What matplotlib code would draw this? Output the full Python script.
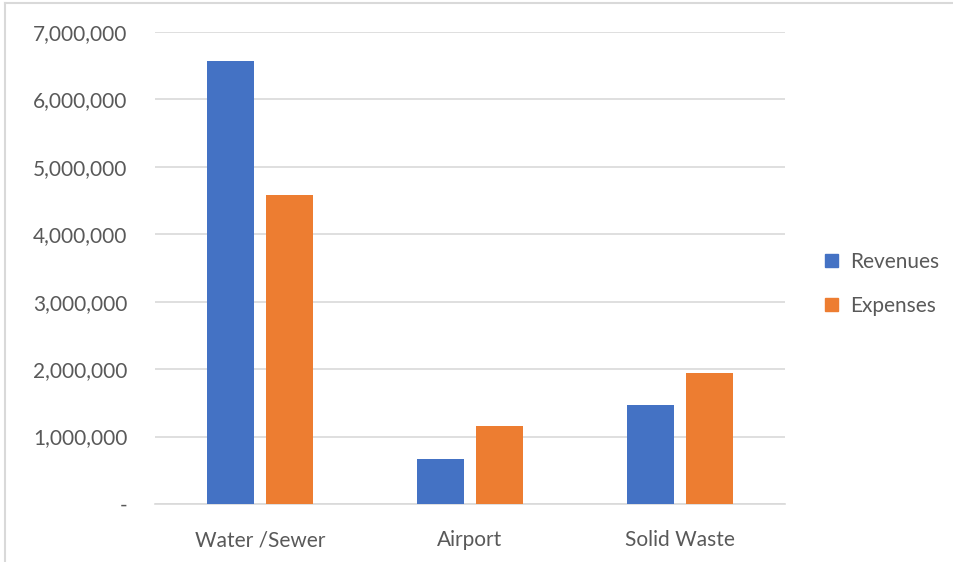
import matplotlib.pyplot as plt
import numpy as np
from matplotlib.ticker import FuncFormatter, MultipleLocator
from matplotlib.patches import Patch
from matplotlib.lines import Line2D

categories = ["Water /Sewer", "Airport", "Solid Waste"]
revenues = [6570000, 665000, 1465000]
expenses = [4580000, 1155000, 1940000]

blue = "#4472C4"
orange = "#ED7D31"
text_color = "#595959"
grid_color = "#D9D9D9"

plt.rcParams["font.family"] = ["Lato", "DejaVu Sans"]

fig = plt.figure(figsize=(9.54, 5.62), dpi=100)
ax = fig.add_axes([0.1625, 0.1032, 0.6604, 0.8398])

x = np.arange(len(categories))
w = 0.224
ax.bar(x - 0.14, revenues, w, color=blue, label="Revenues", zorder=3)
ax.bar(x + 0.14, expenses, w, color=orange, label="Expenses", zorder=3)

ax.set_xlim(-0.5, 2.5)
ax.set_ylim(0, 7000000)
ax.yaxis.set_major_locator(MultipleLocator(1000000))
ax.yaxis.set_major_formatter(FuncFormatter(lambda v, p: "-" if v == 0 else f"{v:,.0f}"))
ax.set_xticks(x)
ax.set_xticklabels(categories)

ax.grid(axis="y", color=grid_color, linewidth=1.2, zorder=0)
for s in ["top", "right", "left"]:
    ax.spines[s].set_visible(False)
ax.spines["bottom"].set_color(grid_color)
ax.spines["bottom"].set_linewidth(1.2)
ax.tick_params(axis="both", length=0, labelsize=15, colors=text_color)
ax.tick_params(axis="y", pad=20)
ax.tick_params(axis="x", pad=19)

handles = [Patch(color=blue), Patch(color=orange)]
fig.legend(handles, ["Revenues", "Expenses"], loc="center left",
           bbox_to_anchor=(0.845, 0.495), frameon=False, fontsize=15,
           labelcolor=text_color, handlelength=0.65, handleheight=0.65,
           handletextpad=0.55, labelspacing=1.15)

# chart border
fig.add_artist(Line2D([0.0055, 0.0055], [0, 0.994], color=grid_color, lw=1.5, transform=fig.transFigure))
fig.add_artist(Line2D([0.0055, 1], [0.994, 0.994], color=grid_color, lw=1.5, transform=fig.transFigure))

fig.savefig("out.png", dpi=100)
